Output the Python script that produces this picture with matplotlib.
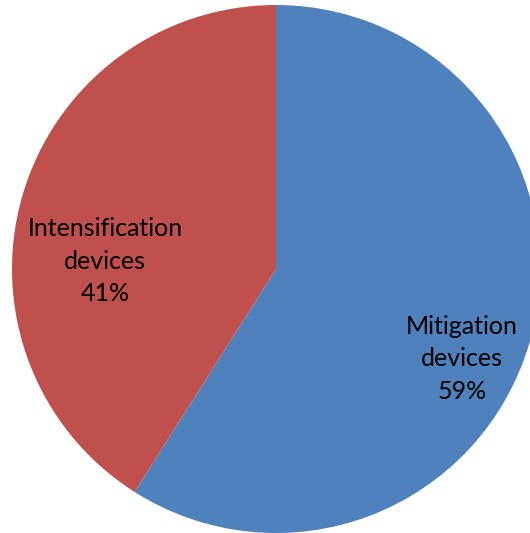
import matplotlib
matplotlib.use("Agg")
import matplotlib.pyplot as plt

# data
categories = ["Mitigation\ndevices", "Intensification\ndevices"]
shares = [59, 41]
colors = ["#4F81BD", "#C0504D"]

# label positions (in pie radius units)
label_pos = [(0.705, -0.34), (-0.648, 0.03)]

plt.rcParams["font.family"] = ["Lato", "DejaVu Sans"]

fig = plt.figure(figsize=(5.30, 5.33), dpi=100)
ax = fig.add_axes([12 / 530, 0.0, 528 / 530, 528 / 533])

wedges, _ = ax.pie(shares, colors=colors, startangle=90, counterclock=False,
                   radius=1.0, wedgeprops={"linewidth": 0})

for name, val, (x, y) in zip(categories, shares, label_pos):
    ax.text(x, y, "%s\n%d%%" % (name, val), ha="center", va="center",
            fontsize=18, linespacing=1.5, color="black")

ax.set_xlim(-1, 1)
ax.set_ylim(-1, 1)
ax.set_aspect("equal")
ax.axis("off")

fig.savefig("out.png", dpi=100)
